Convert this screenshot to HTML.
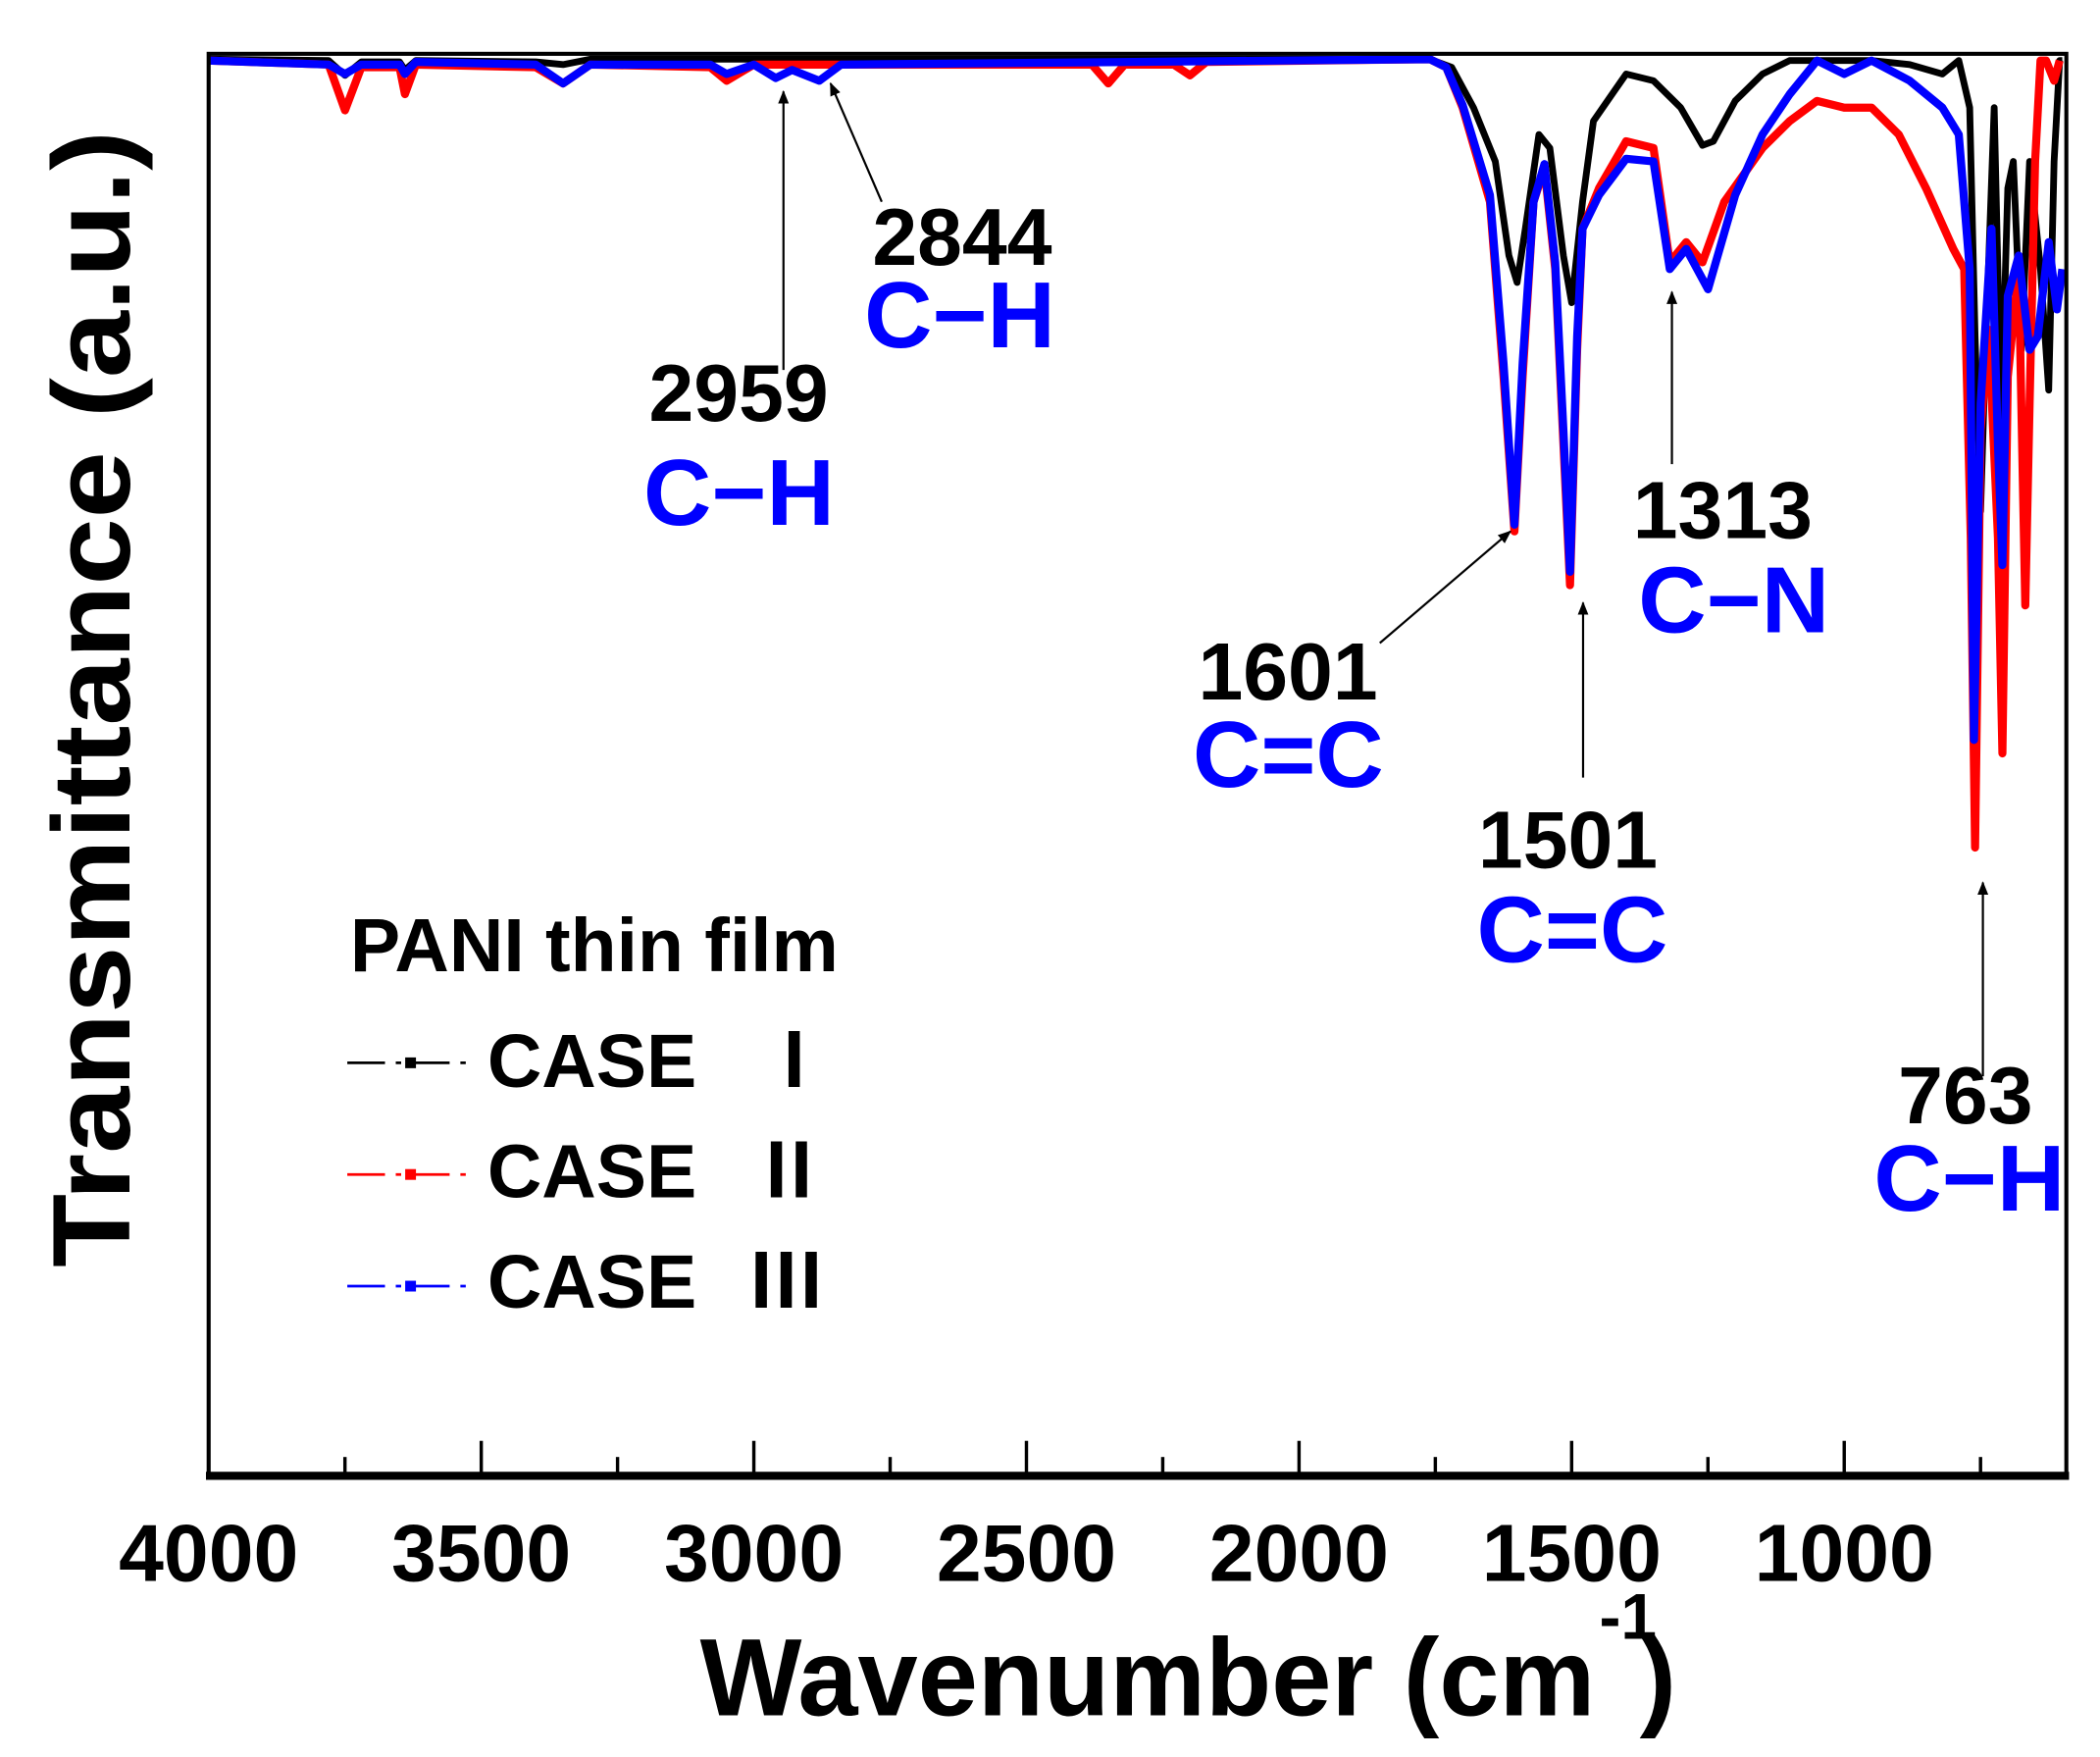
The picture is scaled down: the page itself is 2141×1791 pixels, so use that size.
<!DOCTYPE html>
<html><head><meta charset="utf-8"><style>
html,body{margin:0;padding:0;background:#fff;}
svg{display:block;}
text{font-family:"Liberation Sans",Arial,sans-serif;font-weight:bold;}
.rn{font-family:"Noto Sans CJK SC","Liberation Serif",serif;}
</style></head><body>
<svg id="s" width="2141" height="1791" viewBox="0 0 1560 1306" preserveAspectRatio="none" xmlns="http://www.w3.org/2000/svg">
<rect width="1560" height="1306" fill="#fff"/>
<g id="series"></g>
<rect x="155" y="40" width="1380" height="1057" fill="none" stroke="#000" stroke-width="3"/>
<line x1="153" y1="1097" x2="1537" y2="1097" stroke="#000" stroke-width="6"/>
<g id="ticks" stroke="#000" stroke-width="2.5"></g>
<g font-size="60" text-anchor="middle" fill="#000">
<text x="155" y="1175">4000</text><text x="357.5" y="1175">3500</text><text x="560" y="1175">3000</text>
<text x="762.5" y="1175">2500</text><text x="965" y="1175">2000</text><text x="1167.5" y="1175">1500</text>
<text x="1370" y="1175">1000</text>
</g>
<text x="520" y="1275" font-size="82" textLength="665" lengthAdjust="spacingAndGlyphs">Wavenumber (cm</text>
<text x="1188" y="1218" font-size="48">-1</text>
<text x="1218" y="1275" font-size="82">)</text>
<text transform="translate(96,942) rotate(-90)" font-size="82" textLength="845" lengthAdjust="spacingAndGlyphs">Transmittance (a.u.)</text>
<text x="260" y="722" font-size="56">PANI thin film</text>
<g stroke-width="2">
<line x1="258" y1="790" x2="350" y2="790" stroke="#000" stroke-dasharray="28,8,4,8"/>
<rect x="301" y="786" width="8" height="8" fill="#000"/>
<line x1="258" y1="873" x2="350" y2="873" stroke="#f00" stroke-dasharray="28,8,4,8"/>
<rect x="301" y="869" width="8" height="8" fill="#f00"/>
<line x1="258" y1="956" x2="350" y2="956" stroke="#00f" stroke-dasharray="28,8,4,8"/>
<rect x="301" y="952" width="8" height="8" fill="#00f"/>
</g>
<g font-size="56">
<text x="362" y="808">CASE</text><text class="rn" x="562" y="808">Ⅰ</text>
<text x="362" y="890">CASE</text><text class="rn" x="558" y="890">Ⅱ</text>
<text x="362" y="972">CASE</text><text class="rn" x="556" y="972">Ⅲ</text>
</g>
<g font-size="60" fill="#000">
<text x="648" y="197">2844</text>
<text x="482" y="313">2959</text>
<text x="890" y="520">1601</text>
<text x="1098" y="645">1501</text>
<text x="1213" y="400">1313</text>
<text x="1410" y="835">763</text>
</g>
<g font-size="70" fill="#00f">
<text x="642" y="258">C−H</text>
<text x="478" y="390">C−H</text>
<text x="886" y="585">C=C</text>
<text x="1097" y="715">C=C</text>
<text x="1217" y="470">C−N</text>
<text x="1392" y="900">C−H</text>
</g>
<defs><marker id="ah" markerWidth="10" markerHeight="10" refX="9" refY="5" orient="auto" markerUnits="userSpaceOnUse" viewBox="0 0 10 10"><path d="M0,1 L10,5 L0,9 z" fill="#000"/></marker></defs>
<g stroke="#000" stroke-width="1.6" marker-end="url(#ah)" fill="none">
<line x1="582" y1="275" x2="582" y2="68"/>
<line x1="655" y1="150" x2="617" y2="62"/>
<line x1="1025" y1="478" x2="1122" y2="395"/>
<line x1="1176" y1="578" x2="1176" y2="448"/>
<line x1="1242" y1="345" x2="1242" y2="217"/>
<line x1="1473" y1="800" x2="1473" y2="656"/>
</g>
</svg>
<script>
var X=function(w){return 155+(4000-w)*0.405;};
var tk=document.getElementById('ticks'),h='';
for(var w=4000;w>=700;w-=250){var x=X(w),L=(w%500==0)?24:12;h+='<line x1="'+x+'" y1="1095" x2="'+x+'" y2="'+(1095-L)+'"/>';}
tk.innerHTML=h;
var black=[[4000,44],[3780,45],[3750,56],[3720,46],[3650,46],[3640,52],[3620,45],[3400,46],[3350,48],[3300,44],[1760,44],[1720,50],[1680,80],[1640,120],[1615,190],[1600,210],[1585,170],[1560,100],[1540,110],[1515,190],[1500,225],[1480,150],[1460,90],[1400,55],[1350,60],[1300,80],[1260,108],[1240,105],[1200,75],[1150,55],[1100,45],[950,45],[880,48],[820,55],[790,45],[770,80],[760,250],[750,380],[740,250],[725,80],[712,310],[700,140],[690,120],[675,260],[660,120],[640,200],[625,290],[615,120],[605,45],[600,45]];
var red=[[4000,45],[3780,48],[3750,82],[3720,50],[3650,50],[3640,70],[3620,48],[3400,50],[3350,62],[3300,48],[3080,50],[3050,60],[3000,48],[2380,48],[2350,62],[2320,48],[2230,48],[2200,56],[2170,46],[1760,44],[1730,50],[1700,80],[1650,150],[1625,280],[1605,395],[1590,280],[1570,150],[1550,125],[1530,200],[1515,330],[1503,435],[1490,260],[1480,170],[1450,140],[1400,105],[1350,110],[1320,195],[1290,180],[1260,195],[1220,150],[1150,110],[1100,90],[1050,75],[1000,80],[950,80],[900,100],[850,140],[800,185],[780,200],[768,400],[760,630],[750,320],[735,245],[718,400],[710,560],[700,280],[680,200],[668,450],[660,300],[650,120],[640,45],[630,45],[615,60],[605,45]];
var blue=[[4000,45],[3780,48],[3750,55],[3720,48],[3650,48],[3640,55],[3620,46],[3400,48],[3350,62],[3300,48],[3080,48],[3050,55],[3000,48],[2960,58],[2930,52],[2880,60],[2840,48],[1760,44],[1730,50],[1700,78],[1650,145],[1625,270],[1605,390],[1590,270],[1570,150],[1550,122],[1530,195],[1515,320],[1503,425],[1490,250],[1480,170],[1450,145],[1400,118],[1350,120],[1320,200],[1290,185],[1250,215],[1200,145],[1150,100],[1100,70],[1050,45],[1000,55],[950,45],[880,60],[820,80],[790,100],[770,200],[762,550],[750,300],[730,170],[718,330],[710,420],[700,220],[680,190],[660,260],[645,250],[625,180],[610,230],[600,200]];
function path(d){var s='';for(var i=0;i<d.length;i++){s+=(i?'L':'M')+X(d[i][0]).toFixed(1)+','+d[i][1];}return s;}
var g=document.getElementById('series');
g.innerHTML='<path d="'+path(black)+'" fill="none" stroke="#000" stroke-width="5" stroke-linejoin="round"/>'+
'<path d="'+path(red)+'" fill="none" stroke="#f00" stroke-width="6" stroke-linejoin="round"/>'+
'<path d="'+path(blue)+'" fill="none" stroke="#00f" stroke-width="6" stroke-linejoin="round"/>';
</script>
</body></html>
